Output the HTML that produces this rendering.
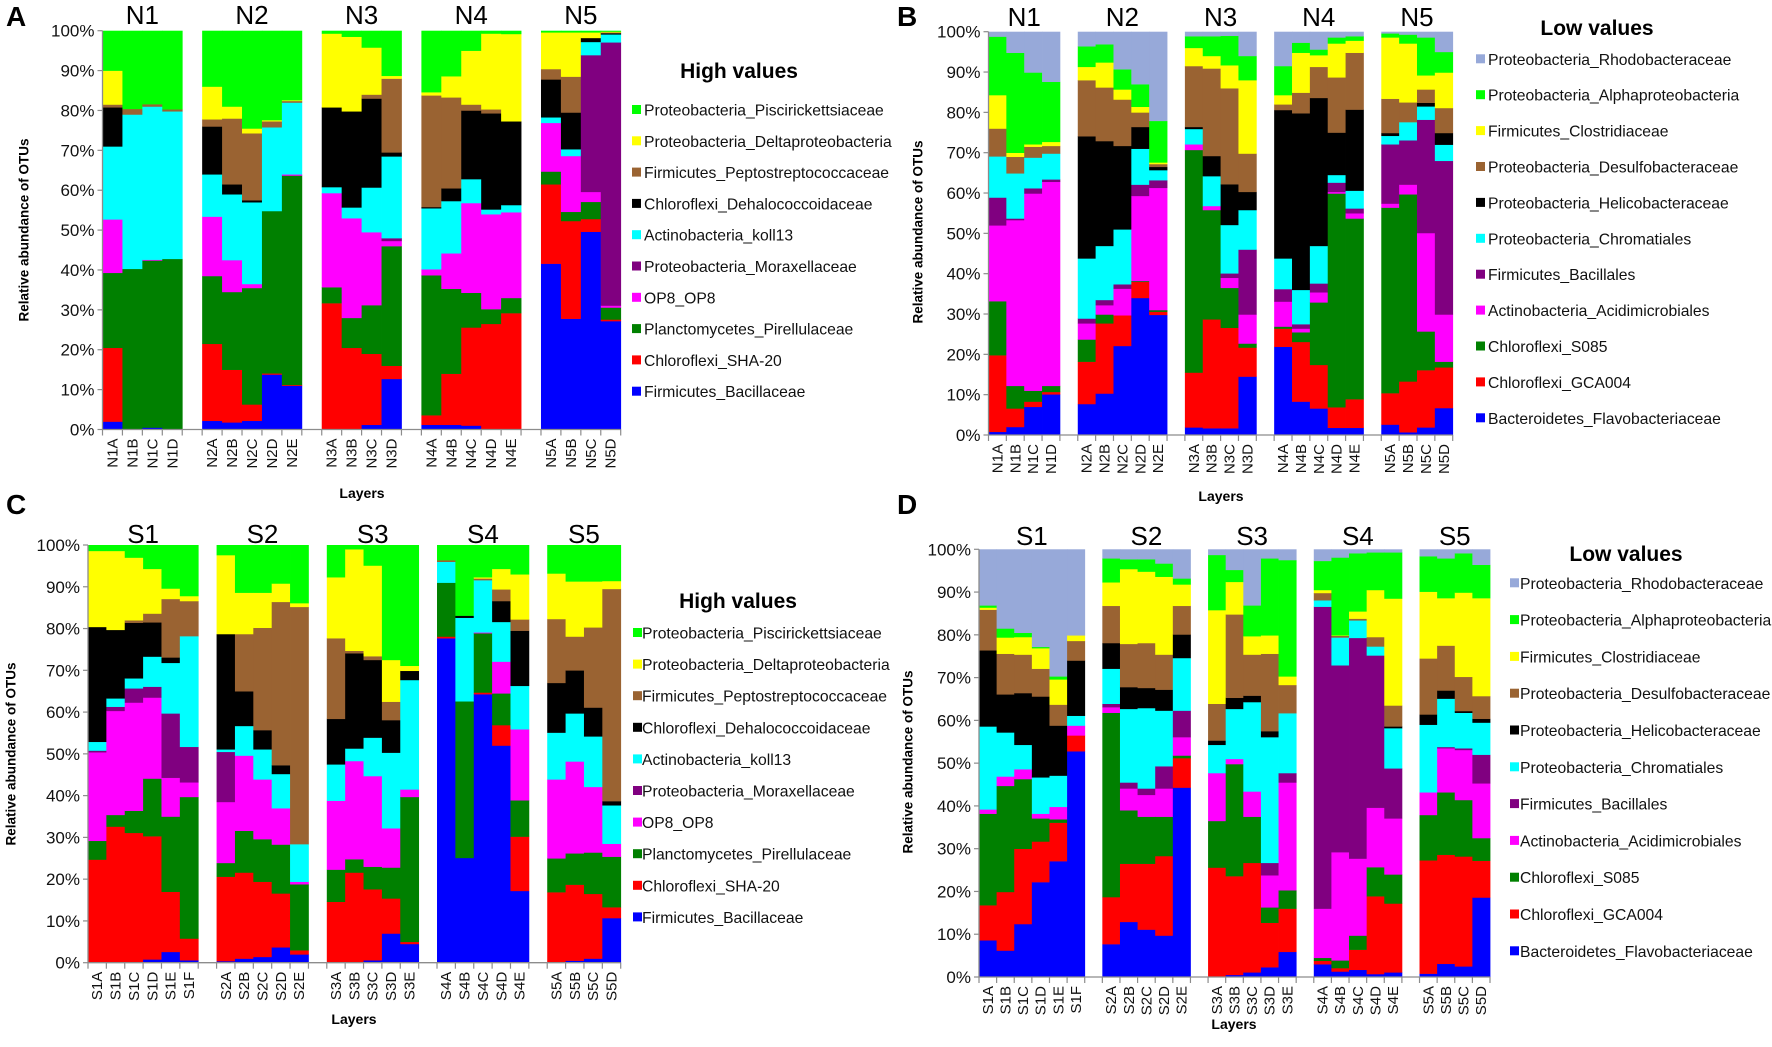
<!DOCTYPE html>
<html><head><meta charset="utf-8"><title>Relative abundance of OTUs</title>
<style>
html,body{margin:0;padding:0;background:#fff;}
svg{display:block;font-family:"Liberation Sans",sans-serif;}
</style></head>
<body>
<svg id="fig" width="1772" height="1047" viewBox="0 0 1772 1047" xmlns="http://www.w3.org/2000/svg"></svg>
<script>
// ---------- Panel A (High values, N) ----------
const A_categories = ["N1A","N1B","N1C","N1D","N2A","N2B","N2C","N2D","N2E","N3A","N3B","N3C","N3D","N4A","N4B","N4C","N4D","N4E","N5A","N5B","N5C","N5D"];
const A_Firmicutes_Bacillaceae = [2,0,0.5,0, 2.2,1.8,2.2,13.8,11, 0,0,1.2,12.7, 1.2,1.2,1,0,0, 41.6,27.8,49.6,27.2];
const A_Chloroflexi_SHA20 = [18.5,0,0,0, 19.3,13.2,4.1,0.3,0.2, 31.7,20.5,17.8,3.3, 2.4,12.8,24.6,26.5,29.2, 19.9,24.5,3.2,0.4];
const A_Planctomycetes_Pirellulaceae = [18.8,40.3,41.9,42.8, 17,19.5,29.2,40.7,52.5, 4,7.5,12.2,30, 35.1,21.3,8.7,3.7,3.8, 3.2,2.3,4.3,3];
const A_OP8 = [13.4,0,0.2,0, 14.9,8,1,0,0.3, 23.6,25,18.3,1.3, 1.5,8.9,22.5,23.8,21.5, 12.2,14,2.5,0.5];
const A_Moraxellaceae = [0,0,0,0, 0,0,0,0,0, 0,0,0,0.7, 0,0,0,0,0, 0,0,34.3,66];
const A_koll13 = [18.3,38.7,38.4,37, 10.6,16.5,20.5,21,18, 1.5,2.7,11.2,20.5, 15.3,13.1,6,1.2,1.8, 1.4,1.7,3.3,2];
const A_Dehalococcoidaceae = [9.8,0,0,0, 12,2.5,0.5,0,0, 20,24.1,22.3,1, 0.3,3.2,17.2,24.1,21, 9.5,9.2,1,0.3];
const A_Peptostreptococcaceae = [0.7,1.4,0.6,0.5, 1.8,16.5,16.8,1.5,0.4, 0,0,1,18.5, 28,22.8,1.5,1,0, 2.6,9,0,0.2];
const A_Deltaproteobacteria = [8.5,0,0,0, 8.2,3,1.2,0.3,0.2, 18.5,18.7,11.8,0.7, 0.8,5.3,13.5,19,21.9, 9.2,11.1,1.4,0.2];
const A_Piscirickettsiaceae = [10,19.6,18.4,19.7, 14,19,24.5,22.4,17.4, 0.7,1.5,4.2,11.3, 15.4,11.4,5,0.7,0.8, 0.4,0.4,0.4,0.2];

// ---------- Panel B (Low values, N) ----------
const B_categories = A_categories.slice();
const B_Flavobacteriaceae = [0.8,2,7,10.1, 7.7,10.3,22.1,34,29.8, 1.9,1.7,1.7,14.5, 21.9,8.3,6.6,1.8,1.8, 2.6,0.7,1.9,6.7];
const B_GCA004 = [19,4.6,1.3,0.6, 10.5,17.4,7.6,4,0.8, 13.6,27,24.9,7.2, 4.5,14.8,10.8,5.1,7.1, 7.8,12.6,14.2,10.1];
const B_S085 = [13.4,5.6,2.7,1.5, 5.5,2.2,0,0.2,0.4, 55.2,27.1,9.9,1, 0.5,2.4,15.5,53,44.8, 46,46.4,9.6,1.4];
const B_Acidimicrobiales = [18.8,41.1,48.9,50.6, 4,2.3,6.6,21.1,30.3, 1.4,1,2.5,7.2, 6.2,0.9,2.5,0.4,1.3, 1,2.4,24.4,11.7];
const B_Bacillales = [6.9,0.4,1.3,0.6, 1.2,1.3,1.1,2.8,1.9, 0,0,1.1,16.1, 3.1,1.1,2.2,2.3,1.2, 14.7,11,28.1,38.1];
const B_Chromatiales = [10.2,11.2,7.6,6.4, 14.9,13.4,13.6,8.9,2.5, 3.8,7.4,12,9.8, 7.6,8.5,9.3,1.9,4.4, 2.1,4.5,3.3,4];
const B_Helicobacteraceae = [0,0,0,0, 30.3,26,20.7,5.4,0.8, 0.5,5,10.1,4.5, 36.8,43.8,36.7,10.5,20.1, 0.7,0,0.9,2.9];
const B_Desulfobacteraceae = [6.9,4.1,2.7,1.9, 13.9,13.3,11.5,3.6,0.7, 15.1,21.7,23.8,9.5, 1.4,5.1,7.7,13.7,14.1, 8.5,4.9,3.3,6.2];
const B_Clostridiaceae = [8.3,1,0.6,1, 3.3,6.2,2.5,1.4,0.4, 4.5,3.1,5.7,18.2, 2.3,9.9,2.9,8.4,3, 15.2,14.6,3.5,8.8];
const B_Alphaproteobacteria = [14.5,24.8,17.8,14.9, 5.1,4.5,5,5.6,10.3, 2.9,4.9,7.3,6, 7.2,2.5,1.4,1.5,1.1, 1,2.2,9.4,5.1];
const B_Rhodobacteraceae = [1.2,5.2,10.1,12.4, 3.6,3.1,9.3,13,22.1, 1.1,1.1,1,6, 8.5,2.7,4.4,1.4,1.1, 0.4,0.7,1.4,5];

// ---------- Panel C (High values, S) ----------
const C_categories = ["S1A","S1B","S1C","S1D","S1E","S1F","S2A","S2B","S2C","S2D","S2E","S3A","S3B","S3C","S3D","S3E","S4A","S4B","S4C","S4D","S4E","S5A","S5B","S5C","S5D"];
const C_Firmicutes_Bacillaceae = [0,0,0,0.8,2.6,0.6, 0.4,1,1.4,3.7,2, 0,0,0.6,7,4.5, 77.7,25.1,64.3,52,17.2, 0.2,0.5,1,10.7];
const C_Chloroflexi_SHA20 = [24.7,32.6,31.1,29.5,14.4,5.2, 20.2,20.6,18,12.9,1, 14.6,21.6,17,8.4,0.5, 0.4,0,0.4,4.9,13, 16.7,18.2,15.5,2.6];
const C_Planctomycetes_Pirellulaceae = [4.5,2.8,5.3,13.8,18,33.9, 3.3,10,10.2,11.7,15.8, 7.7,3.2,5.4,7.4,34.7, 12.9,37.5,14.2,7.6,8.7, 8.1,7.5,9.9,12.1];
const C_OP8 = [21.2,24.9,25.9,19.4,9.3,3.5, 14.6,18,14.3,8.7,0.6, 16.5,23.5,21.7,9.4,1.8, 0,0,0.2,7.6,17, 18.9,22,15.7,3.1];
const C_Moraxellaceae = [0.4,1,3.4,2.6,15.4,8.5, 12,0,0,0,0, 0,0,0,0,0, 0,0,0,0,0, 0,0,0,0];
const C_koll13 = [2.1,2,2.4,7.2,12.1,26.5, 0.6,7.1,7.2,8.2,9, 8.7,3,9.2,18.1,26.2, 5,20,12.5,9.5,10.4, 11.2,11.5,12.1,9.2];
const C_Dehalococcoidaceae = [27.5,16.4,13.3,8.2,1.3,0, 27.6,8.3,4.6,2.1,0, 10.9,22.8,18.6,7.8,2.2, 0,0.5,0,5,13.2, 11.9,10.3,6.9,1];
const C_Peptostreptococcaceae = [0,0,0.6,2.1,14,8.4, 0,13.7,24.5,39.1,56.8, 19.3,0.6,0.9,4.4,0, 0.4,0,0.4,2.8,2.7, 15.3,8.1,19.2,50.8];
const C_Deltaproteobacteria = [18.2,18.9,15,10.7,2.5,1.2, 18.9,9.9,8.4,4.4,0.9, 14.6,24.3,21.7,10,1.2, 0,0,0.3,4.9,10.8, 10.9,13.2,11,1.9];
const C_Piscirickettsiaceae = [1.4,1.4,3,5.7,10.4,12.2, 2.4,11.4,11.4,9.2,13.9, 7.7,1,4.9,27.5,28.9, 3.6,16.9,7.7,5.7,7, 6.8,8.7,8.7,8.6];

// ---------- Panel D (Low values, S) ----------
const D_categories = C_categories.slice();
const D_Flavobacteriaceae = [8.6,6.2,12.4,22.2,27.1,52.8, 7.7,12.9,11.1,9.7,44.3, 0,0.5,1.1,2.3,5.9, 3,1.3,1.7,0.7,1.1, 0.8,3.1,2.5,18.6];
const D_GCA004 = [8.2,13.7,17.6,9.5,9,3.7, 11,13.6,15.4,18.6,6.9, 25.6,23.1,25.6,10.4,10.1, 0.8,0.8,4.7,18.2,16.1, 26.5,25.5,25.7,8.6];
const D_S085 = [21.4,24.8,16.3,5.4,0.8,0, 43.1,12.5,11,9.2,0.6, 10.9,26.2,10.8,3.6,4.3, 0.7,1.8,3.3,6.8,6.8, 10.6,14.6,13.2,5.3];
const D_Acidimicrobiales = [1,2.2,2.3,1.1,2.9,2.3, 1.3,5.1,5.1,6.6,4.3, 11.2,1.2,5.9,7.5,25.2, 11.5,25.3,18,13.9,13.1, 5.3,10.3,11.7,12.8];
const D_Bacillales = [0,0,0,0,0,0, 0.8,1.4,1.5,5.2,6.2, 0,0,0,2.9,2.2, 70.6,43.7,51.6,35.6,11.7, 0,0.3,0.4,6.7];
const D_Chromatiales = [19.4,10.3,5.7,8.5,7.3,2.3, 8.2,17.2,18.8,13,12.3, 6.6,11.7,20.9,29.4,14, 1.5,6.5,4.1,2.1,9.4, 15.8,11.3,8.3,7.5];
const D_Helicobacteraceae = [17.8,8.9,12.1,18.9,11.7,12.9, 6,5.1,4.7,4.9,5.5, 1,2.6,1.5,1.4,0, 0,0,0,0,0.4, 2.4,1.9,0.4,0.9];
const D_Desulfobacteraceae = [9.5,9.5,9,6.5,4.9,4.6, 8.7,10.1,10.5,8.2,6.7, 8.6,19.5,9.6,18.1,6.6, 1.7,0.4,0.4,2.2,4.9, 13.1,10.5,8,5.3];
const D_Clostridiaceae = [0.5,3.8,4.1,4.8,5.9,1.3, 5.5,17.5,16.7,18.2,5, 21.9,7.6,4.3,4.3,2, 0.7,0.1,1.7,11,25, 15.6,11.1,19.7,22.9];
const D_Alphaproteobacteria = [0.5,2.1,1,0.3,0.7,0, 5.6,2.3,2.9,3.1,1.4, 12.9,2.8,7.2,18,27.2, 6.8,18.2,13.6,8.8,10.8, 8.3,9.3,9.2,7.8];
const D_Rhodobacteraceae = [13.1,18.5,19.5,22.8,29.7,20.1, 2.1,2.3,2.3,3.3,6.8, 1.3,4.8,13.1,2.1,2.5, 2.7,1.9,0.9,0.7,0.7, 1.6,2.1,0.9,3.6];

const yTickLabels = ["0%","10%","20%","30%","40%","50%","60%","70%","80%","90%","100%"];
const A_groups = ["N1","N2","N3","N4","N5"];
const C_groups = ["S1","S2","S3","S4","S5"];

const highNames = ["Firmicutes_Bacillaceae","Chloroflexi_SHA-20","Planctomycetes_Pirellulaceae","OP8_OP8","Proteobacteria_Moraxellaceae","Actinobacteria_koll13","Chloroflexi_Dehalococcoidaceae","Firmicutes_Peptostreptococcaceae","Proteobacteria_Deltaproteobacteria","Proteobacteria_Piscirickettsiaceae"];
const lowNames = ["Bacteroidetes_Flavobacteriaceae","Chloroflexi_GCA004","Chloroflexi_S085","Actinobacteria_Acidimicrobiales","Firmicutes_Bacillales","Proteobacteria_Chromatiales","Proteobacteria_Helicobacteraceae","Proteobacteria_Desulfobacteraceae","Firmicutes_Clostridiaceae","Proteobacteria_Alphaproteobacteria","Proteobacteria_Rhodobacteraceae"];
const COLS = ["#0000ff","#ff0000","#008000","#ff00ff","#800080","#00ffff","#000000","#9a6332","#ffff00","#00ff00","#97a9d9"];

const NS="http://www.w3.org/2000/svg";
const svg=document.getElementById('fig');
function el(tag,attrs,parent,text){const e=document.createElementNS(NS,tag);for(const k in attrs)e.setAttribute(k,attrs[k]);if(text!==undefined)e.textContent=text;(parent||svg).appendChild(e);return e;}

const panels=[
 {id:'A',letter:'A',lx:6,ly:26,cats:A_categories,groups:A_groups,sizes:[4,5,4,5,4],series:[A_Firmicutes_Bacillaceae,A_Chloroflexi_SHA20,A_Planctomycetes_Pirellulaceae,A_OP8,A_Moraxellaceae,A_koll13,A_Dehalococcoidaceae,A_Peptostreptococcaceae,A_Deltaproteobacteria,A_Piscirickettsiaceae],names:highNames,
  x0:102.5,x1:620.7,y0:429.5,y100:30.7,ytx:25,yty:230,layx:362,layy:498,gty:24,title:'High values',tx:739,ty:78,legSq:632,legTx:644,legY0:110,legDy:31.3,legFs:15.7},
 {id:'B',letter:'B',lx:897,ly:26,cats:B_categories,groups:A_groups,sizes:[4,5,4,5,4],series:[B_Flavobacteriaceae,B_GCA004,B_S085,B_Acidimicrobiales,B_Bacillales,B_Chromatiales,B_Helicobacteraceae,B_Desulfobacteraceae,B_Clostridiaceae,B_Alphaproteobacteria,B_Rhodobacteraceae],names:lowNames,
  x0:988.5,x1:1452.7,y0:435,y100:31.7,ytx:919,yty:232,layx:1221,layy:501,gty:26,title:'Low values',tx:1597,ty:35,legSq:1476,legTx:1488,legY0:59.3,legDy:35.9,legFs:15.7},
 {id:'C',letter:'C',lx:6,ly:514,cats:C_categories,groups:C_groups,sizes:[6,5,5,5,4],series:[C_Firmicutes_Bacillaceae,C_Chloroflexi_SHA20,C_Planctomycetes_Pirellulaceae,C_OP8,C_Moraxellaceae,C_koll13,C_Dehalococcoidaceae,C_Peptostreptococcaceae,C_Deltaproteobacteria,C_Piscirickettsiaceae],names:highNames,
  x0:88,x1:620.7,y0:962.7,y100:545,ytx:12,yty:754,layx:354,layy:1024,gty:543,title:'High values',tx:738,ty:608,legSq:633,legTx:642,legY0:633,legDy:31.6,legFs:15.7},
 {id:'D',letter:'D',lx:897,ly:514,cats:D_categories,groups:C_groups,sizes:[6,5,5,5,4],series:[D_Flavobacteriaceae,D_GCA004,D_S085,D_Acidimicrobiales,D_Bacillales,D_Chromatiales,D_Helicobacteraceae,D_Desulfobacteraceae,D_Clostridiaceae,D_Alphaproteobacteria,D_Rhodobacteraceae],names:lowNames,
  x0:979,x1:1490,y0:977,y100:549.3,ytx:909,yty:762,layx:1234,layy:1029,gty:545,title:'Low values',tx:1626,ty:561,legSq:1510,legTx:1520,legY0:583.3,legDy:36.8,legFs:15.7}
];

panels.forEach(p=>{
  const g=el('g',{});
  
  
  const nSlots=p.sizes.reduce((a,b)=>a+b,0)+p.sizes.length-1;
  const slot=(p.x1-p.x0)/nSlots;
  const yS=v=>p.y0-(p.y0-p.y100)*v/100;
  const slotIdx=[];let s=0;p.sizes.forEach((n,gi)=>{for(let i=0;i<n;i++)slotIdx.push(s++);s++;});
  const xS=i=>p.x0+slotIdx[i]*slot;
  p.cats.forEach((c,i)=>{
    const tot=p.series.reduce((a,ser)=>a+ser[i],0)||1;
    let cum=0;
    const bg=el('g',{},g);
    
    
    p.series.forEach((ser,k)=>{
      const v=ser[i]/tot*100;
      if(v<=0)return;
      const yt=yS(cum+v),yb=yS(cum);
      const r=el('rect',{x:xS(i).toFixed(2),y:yt.toFixed(2),width:(slot+0.4).toFixed(2),height:(yb-yt+0.3).toFixed(2),fill:COLS[k]},bg);
      
      
      cum+=v;
    });
  });
  const ax=el('line',{x1:p.x0,y1:p.y100,x2:p.x0,y2:p.y0,stroke:'#8c8c8c','stroke-width':1.3},g);
  
  
  const bx=el('line',{x1:p.x0,y1:p.y0,x2:p.x1,y2:p.y0,stroke:'#8c8c8c','stroke-width':1.3},g);
  
  
  for(let k=0;k<=nSlots;k++){const x=p.x0+k*slot;el('line',{x1:x,y1:p.y0,x2:x,y2:p.y0+6,stroke:'#8c8c8c','stroke-width':1.2},g);}
  yTickLabels.forEach((t,k)=>{
    const y=yS(k*10);
    el('line',{x1:p.x0-5,y1:y,x2:p.x0,y2:y,stroke:'#8c8c8c','stroke-width':1.2},g);
    const tl=el('text',{x:p.x0-8,y:y+6,'text-anchor':'end','font-size':17,fill:'#111'},g,t);
    
    
  });
  p.cats.forEach((c,i)=>{
    const cx=xS(i)+slot/2+5;
    const t=el('text',{x:cx,y:p.y0+9,'text-anchor':'end','font-size':15,fill:'#111',transform:`rotate(-90 ${cx} ${p.y0+9})`},g,c);
    
    
  });
  let start=0;p.sizes.forEach((n,gi)=>{
    const cx=p.x0+(start+n/2)*slot;
    const t=el('text',{x:cx,y:p.gty,'text-anchor':'middle','font-size':26,fill:'#000'},g,p.groups[gi]);
    
    
    start+=n+1;
  });
  const yt=el('text',{x:p.ytx,y:p.yty,'text-anchor':'middle','font-size':13.5,'font-weight':'bold',transform:`rotate(-90 ${p.ytx} ${p.yty})`,'dominant-baseline':'middle'},g,'Relative abundance of OTUs');
  
  
  const xt=el('text',{x:p.layx,y:p.layy,'text-anchor':'middle','font-size':14,'font-weight':'bold'},g,'Layers');
  
  
  const lt=el('text',{x:p.lx,y:p.ly,'font-size':28,'font-weight':'bold'},g,p.letter);
  
  
  const lg=el('g',{},g);
  
  
  const tt=el('text',{x:p.tx,y:p.ty,'text-anchor':'middle','font-size':21,'font-weight':'bold'},lg,p.title);
  
  
  const n=p.names.length;
  for(let j=0;j<n;j++){
    const k=n-1-j;const y=p.legY0+j*p.legDy;
    const e=el('g',{},lg);
    
    
    el('rect',{x:p.legSq,y:y-5,width:9,height:9,fill:COLS[k]},e);
    el('text',{x:p.legTx,y:y+5.5,'font-size':p.legFs,fill:'#111'},e,p.names[k]);
  }
});
</script>
</body></html>
